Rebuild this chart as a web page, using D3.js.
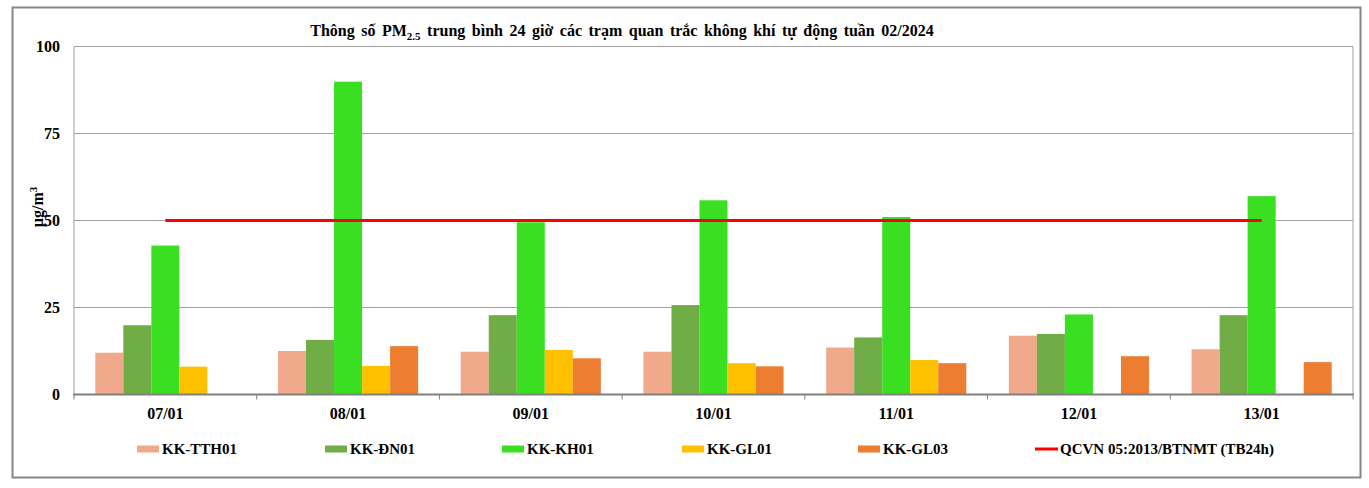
<!DOCTYPE html>
<meta charset="utf-8">
<script src="https://d3js.org/d3.v7.min.js"></script>
<style>
  body { margin: 0; background: #fff; }
  text { font-family: "Liberation Serif", "Times New Roman", serif; font-weight: bold; fill: #000; }
</style>
<body>
<svg width="1369" height="488"></svg>
<script>
// data
var days = ["07/01", "08/01", "09/01", "10/01", "11/01", "12/01", "13/01"];
var stations = ["KK-TTH01", "KK-ĐN01", "KK-KH01", "KK-GL01", "KK-GL03"];
var tth01 = [12.0, 12.5, 12.3, 12.3, 13.5, 16.9, 13.0];
var dn01  = [19.9, 15.7, 22.8, 25.7, 16.4, 17.4, 22.8];
var kh01  = [42.8, 89.9, 49.5, 55.8, 51.0, 23.0, 57.0];
var gl01  = [8.0, 8.2, 12.8, 9.0, 9.9, null, null];
var gl03  = [null, 13.9, 10.4, 8.1, 9.0, 11.0, 9.3];
var limitName = "QCVN 05:2013/BTNMT (TB24h)";
var limitValue = 50;
var yTicks = [0, 25, 50, 75, 100];

var seriesValues = [tth01, dn01, kh01, gl01, gl03];
var rows = days.map(function(d, i) {
  var r = {day: d};
  stations.forEach(function(s, j) { r[s] = seriesValues[j][i]; });
  return r;
});

var svg = d3.select("svg"),
    margin = {top: 46.5, right: 16, bottom: 93.5, left: 74},
    width = +svg.attr("width") - margin.left - margin.right,
    height = +svg.attr("height") - margin.top - margin.bottom;

// outer frame
svg.append("rect")
    .attr("x", 12.5).attr("y", 7.5)
    .attr("width", 1348).attr("height", 470)
    .attr("fill", "none")
    .attr("stroke", "#868686")
    .attr("stroke-width", 2);

var g = svg.append("g").attr("transform", "translate(" + margin.left + "," + margin.top + ")");

var x0 = d3.scaleBand()
    .domain(days)
    .range([0, width])
    .padding(0);

var x1 = d3.scaleBand()
    .domain(stations)
    .range([0, x0.bandwidth()])
    .paddingInner(0)
    .paddingOuter(0.76);

var y = d3.scaleLinear()
    .domain([0, 100])
    .range([height, 0]);

var z = d3.scaleOrdinal()
    .domain(stations)
    .range(["#F1A98B", "#70AD47", "#3ADF22", "#FFC000", "#ED7D31"]);

// gridlines
g.append("g")
  .selectAll("line")
  .data(yTicks.slice(1))
  .enter().append("line")
    .attr("x1", 0).attr("x2", width)
    .attr("y1", function(d) { return y(d); })
    .attr("y2", function(d) { return y(d); })
    .attr("stroke", "#a0a0a0")
    .attr("stroke-width", 1);

// plot frame left/right
g.append("line").attr("x1", 0).attr("x2", 0).attr("y1", 0).attr("y2", height)
    .attr("stroke", "#a0a0a0");
g.append("line").attr("x1", width).attr("x2", width).attr("y1", 0).attr("y2", height)
    .attr("stroke", "#a0a0a0");

// bars
g.append("g")
  .selectAll("g")
  .data(rows)
  .enter().append("g")
    .attr("transform", function(d) { return "translate(" + x0(d.day) + ",0)"; })
  .selectAll("rect")
  .data(function(d) { return stations.filter(function(k) { return d[k] != null; })
                                  .map(function(k) { return {key: k, value: d[k]}; }); })
  .enter().append("rect")
    .attr("x", function(d) { return x1(d.key); })
    .attr("y", function(d) { return y(d.value); })
    .attr("width", x1.bandwidth())
    .attr("height", function(d) { return height - y(d.value); })
    .attr("fill", function(d) { return z(d.key); });

// limit line across category centres
var line = d3.line()
    .x(function(d) { return x0(d) + x0.bandwidth() / 2; })
    .y(function() { return y(limitValue); });

g.append("path")
    .datum(days)
    .attr("d", line)
    .attr("fill", "none")
    .attr("stroke", "#FF0000")
    .attr("stroke-width", 3);

// x axis
var xAxis = g.append("g")
    .attr("transform", "translate(0," + height + ")");
xAxis.append("line")
    .attr("x1", -1).attr("x2", width + 1)
    .attr("stroke", "#808080")
    .attr("stroke-width", 2);
xAxis.selectAll(".tick")
  .data(days.map(function(d) { return x0(d); }).concat([width]))
  .enter().append("line")
    .attr("x1", function(d) { return d; })
    .attr("x2", function(d) { return d; })
    .attr("y1", 0).attr("y2", 5)
    .attr("stroke", "#808080");
xAxis.selectAll(".lbl")
  .data(days)
  .enter().append("text")
    .attr("x", function(d) { return x0(d) + x0.bandwidth() / 2; })
    .attr("y", 24.5)
    .attr("text-anchor", "middle")
    .style("font-size", "16px")
    .text(function(d) { return d; });

// y axis labels
g.append("g")
  .selectAll("text")
  .data(yTicks)
  .enter().append("text")
    .attr("x", -14)
    .attr("y", function(d) { return y(d); })
    .attr("dy", "0.35em")
    .attr("text-anchor", "end")
    .style("font-size", "16px")
    .text(function(d) { return d; });

// y axis title
var yt = svg.append("text")
    .attr("transform", "translate(43,207) rotate(-90)")
    .attr("text-anchor", "middle")
    .style("font-size", "16px");
yt.append("tspan").text("µg/m");
yt.append("tspan").attr("dy", -6).style("font-size", "11px").text("3");

// title
var title = svg.append("text")
    .attr("x", 622)
    .attr("y", 35.5)
    .attr("text-anchor", "middle")
    .style("font-size", "16px")
    .style("word-spacing", "2.5px");
title.append("tspan").text("Thông số PM");
title.append("tspan").attr("dy", 4).style("font-size", "11px").text("2.5");
title.append("tspan").attr("dy", -4).text(" trung bình 24 giờ các trạm quan trắc không khí tự động tuần 02/2024");

// legend
var legendX = [137, 325, 502, 682, 858, 1035];
var legendKeys = stations.concat([limitName]);
var legend = svg.append("g")
  .selectAll("g")
  .data(legendKeys)
  .enter().append("g")
    .attr("transform", function(d, i) { return "translate(" + legendX[i] + ",449)"; });

legend.filter(function(d, i) { return i < stations.length; })
  .append("rect")
    .attr("x", 0).attr("y", -3.5)
    .attr("width", 22).attr("height", 7)
    .attr("fill", function(d) { return z(d); });

legend.filter(function(d, i) { return i === stations.length; })
  .append("line")
    .attr("x1", 0).attr("x2", 23)
    .attr("stroke", "#FF0000")
    .attr("stroke-width", 3);

legend.append("text")
    .attr("x", 25)
    .attr("y", 0)
    .attr("dy", "0.35em")
    .style("font-size", "15px")
    .text(function(d) { return d; });
</script>
</body>
